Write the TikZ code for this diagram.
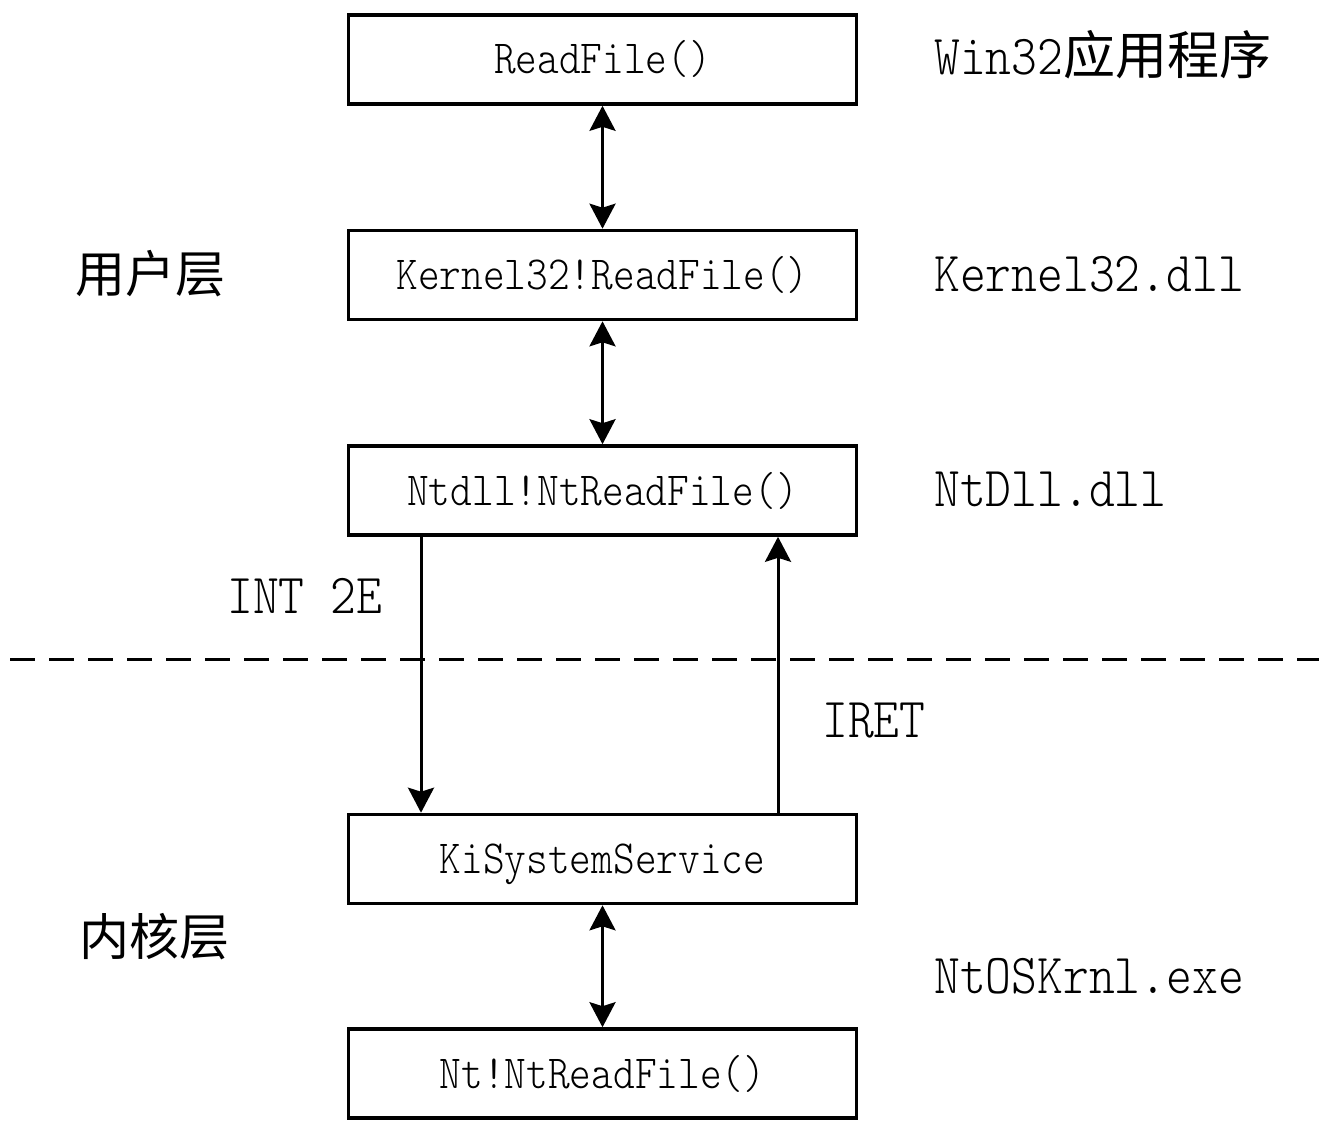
\documentclass[tikz,border=0pt]{standalone}
\usepackage{fontspec}
\usetikzlibrary{arrows.meta}
\newfontfamily\codefont{lmmonolt10-regular}[Extension=.otf, FakeStretch=0.87]
\newfontfamily\cjkfont{Noto Sans CJK SC}

\begin{document}
\begin{tikzpicture}[x=1pt,y=-1pt,
  fn/.style={draw, line width=3.6pt, minimum width=508pt, minimum height=89pt,
    inner sep=0pt, text height=29pt, text depth=0pt,
    font=\codefont\fontsize{47.5}{47.5}\selectfont},
  lbl/.style={anchor=base west, inner sep=0pt,
    font=\codefont\fontsize{56.5}{56.5}\selectfont},
  layer/.style={anchor=base west, inner sep=0pt,
    font=\cjkfont\fontsize{50}{50}\selectfont},
  link/.style={line width=3pt, {Stealth[length=25pt,width=26pt,inset=4pt]}-{Stealth[length=25pt,width=26pt,inset=4pt]}},
  call/.style={line width=3pt, -{Stealth[length=25pt,width=26pt,inset=4pt]}},
  border/.style={line width=3pt, dash pattern=on 25pt off 14pt},
]
\useasboundingbox (0,0) rectangle (1319,1121);

% call chain
\node[fn] (rf)    at (602.5,59.5)  {ReadFile()};
\node[fn] (k32)   at (602.5,275)   {Kernel32!ReadFile()};
\node[fn] (ntdll) at (602.5,490.5) {Ntdll!NtReadFile()};
\node[fn] (kiss)  at (602.5,859)   {KiSystemService};
\node[fn] (nt)    at (602.5,1073.5){Nt!NtReadFile()};

\draw[link] (rf) -- (k32);
\draw[link] (k32) -- (ntdll);
\draw[link] (kiss) -- (nt);

% trap into the kernel and return
\coordinate (down) at (421,0);
\coordinate (up)   at (778,0);
\draw[call] (ntdll.south -| down) -- (kiss.north -| down);
\draw[call] (kiss.north -| up) -- (ntdll.south -| up);

% user / kernel boundary
\coordinate (sepL) at (10,659);
\coordinate (sepR) at (1319,659);
\draw[border] (sepL) -- (sepR);

% module names
\node[lbl] (winlbl)   at (934,75)  {Win32{\cjkfont\fontsize{52}{52}\selectfont 应用程序}};
\node[lbl] (k32lbl)   at (934,291) {Kernel32.dll};
\node[lbl] (ntdlllbl) at (934,506) {NtDll.dll};
\node[lbl] (oslbl)    at (934,993) {NtOSKrnl.exe};

% transition labels
\node[lbl] (intlbl)  at (227,613) {INT 2E};
\node[lbl] (iretlbl) at (822,737) {IRET};

% layers
\node[layer] (user)   at (75,292) {用户层};
\node[layer] (kernel) at (79,955) {内核层};
\end{tikzpicture}
\end{document}
